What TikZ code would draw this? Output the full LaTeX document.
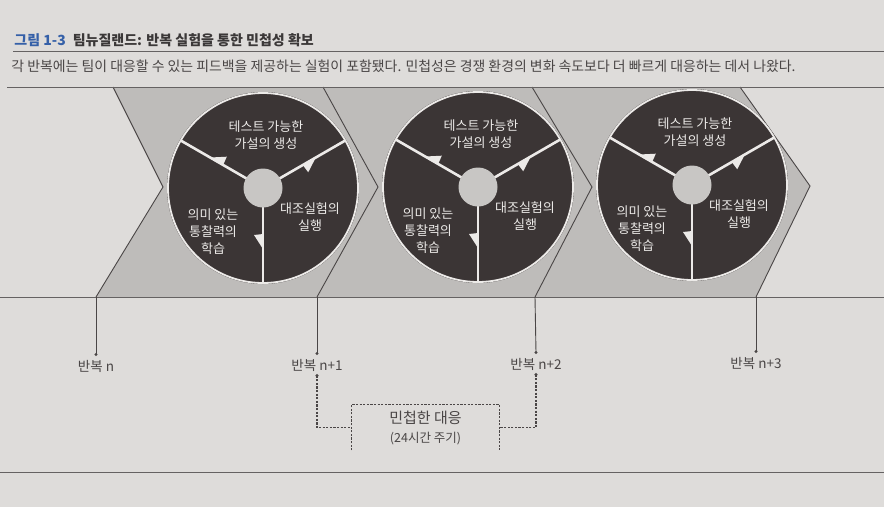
\documentclass[tikz,border=0pt]{standalone}
\usepackage{fontspec}
\setmainfont{Noto Sans CJK KR}
\usetikzlibrary{positioning,calc}
\definecolor{paper}{HTML}{DEDCDA}
\definecolor{band}{HTML}{BEBCBA}
\definecolor{disk}{HTML}{3B3535}
\definecolor{ink}{HTML}{4A4646}
\definecolor{chalk}{HTML}{ECEAE8}
\definecolor{figblue}{HTML}{3560A8}
\tikzset{
  every picture/.style={
    line width=0.9pt
  },
  rule/.style={draw=ink!85, line width=1pt},
  fold/.style={draw=ink, line width=0.9pt},
  wheeltext/.style={align=center, text=chalk, inner sep=0pt,
    font=\fontsize{13}{17}\selectfont},
  steplabel/.style={text=ink, inner sep=1pt, font=\fontsize{13.5}{15}\selectfont},
  pin/.style={fill=ink, circle, inner sep=0pt, minimum size=3.4pt},
  link/.style={draw=ink, line width=1.1pt, dash pattern=on 2.2pt off 1.4pt},
  % from the photo: light spokes and teeth on the dark disk
  spoke/.style={draw=chalk, line width=2.6pt}
}
% one wheel of the loop: centre name, then its three texts
\newcommand\loopwheel[1]{%
  \fill[disk] (#1) circle (96pt);
  \draw[chalk, line width=1.8pt] (#1) circle (95pt);
  \foreach \a in {30,150,270}{
    \draw[spoke] (#1) -- ++(\a:95pt);
    \fill[chalk] ($(#1)+(\a:46pt)$) -- ($(#1)+(\a:61pt)$)
      -- ($(#1)+(\a:47pt)+(\a-90:9pt)$) -- cycle;
  }
  \fill[band!85!white] (#1) circle (19.5pt);
  \node[wheeltext] (#1-make) at ($(#1)+(3pt,53pt)$) {테스트 가능한\\가설의 생성};
  \node[wheeltext] (#1-run) at ($(#1)+(47pt,-29pt)$) {대조실험의\\실행};
  \node[wheeltext] (#1-learn) at ($(#1)+(-50pt,-44pt)$) {의미 있는\\통찰력의\\학습};
}

\begin{document}
\begin{tikzpicture}[x=1pt, y=-1pt]
  \fill[paper] (0,0) rectangle (884,507);
  \useasboundingbox (0,0) rectangle (884,507);

  % heading
  \node[anchor=west, inner sep=0pt, font=\fontsize{14}{16}\selectfont\bfseries] (title) at (14,40)
    {\textcolor{figblue}{그림 1-3}\hspace{7pt}\textcolor{ink!80!black}{팀뉴질랜드: 반복 실험을 통한 민첩성 확보}};
  \draw[rule] (13,51) -- (884,51);
  \node[anchor=west, inner sep=0pt, text=ink, font=\fontsize{13.9}{16}\selectfont] (lead) at (11,66)
    {각 반복에는 팀이 대응할 수 있는 피드백을 제공하는 실험이 포함됐다. 민첩성은 경쟁 환경의 변화 속도보다 더 빠르게 대응하는 데서 나왔다.};

  % chevron band
  \coordinate (top0) at (113,87);  \coordinate (tip0) at (163,187); \coordinate (bot0) at (96,297);
  \coordinate (top1) at (323,87);  \coordinate (tip1) at (378,187); \coordinate (bot1) at (317,297);
  \coordinate (top2) at (532,87);  \coordinate (tip2) at (592,187); \coordinate (bot2) at (535,297);
  \coordinate (top3) at (740,87);  \coordinate (tip3) at (810,186); \coordinate (bot3) at (756,297);
  \foreach \i/\j in {0/1,1/2,2/3}
    \fill[band] (top\i) -- (tip\i) -- (bot\i) -- (bot\j) -- (tip\j) -- (top\j) -- cycle;
  \foreach \i in {0,...,3}
    \draw[fold] (top\i) -- (tip\i) -- (bot\i);
  \draw[rule] (7,87) -- (884,87);
  \draw[rule] (0,297) -- (884,297);

  % the three build-measure-learn wheels
  \coordinate (w1) at (263,188);
  \coordinate (w2) at (478,187);
  \coordinate (w3) at (692,185);
  \loopwheel{w1}
  \loopwheel{w2}
  \loopwheel{w3}

  % iterations
  \node[steplabel] (step0) at (96,366) {반복 n};
  \node[steplabel] (step1) at (317,365) {반복 n+1};
  \node[steplabel] (step2) at (536,364) {반복 n+2};
  \node[steplabel] (step3) at (756,363) {반복 n+3};
  \foreach \i in {0,...,3}{
    \draw[fold] (bot\i) -- ([yshift=4pt]step\i.north);
    \node[pin] at ([yshift=4pt]step\i.north) {};
  }

  % fast response
  \node[align=center, minimum width=147pt, minimum height=45pt, inner sep=0pt, text=ink,
    font=\fontsize{15}{19}\selectfont] (resp) at (425.5,427.5)
    {민첩한 대응\\{\fontsize{12.5}{14}\selectfont(24시간 주기)}};
  \draw[link] (resp.south west) -- (resp.north west) -- (resp.north east) -- (resp.south east);
  \node[pin] (from1) at ([yshift=-3pt]step1.south) {};
  \node[pin] (from2) at ([yshift=-3pt]step2.south) {};
  \draw[link] (from1.center) |- (resp.west);
  \draw[link] (from2.center) |- (resp.east);

  \draw[rule] (0,472) -- (884,472);
\end{tikzpicture}
\end{document}
